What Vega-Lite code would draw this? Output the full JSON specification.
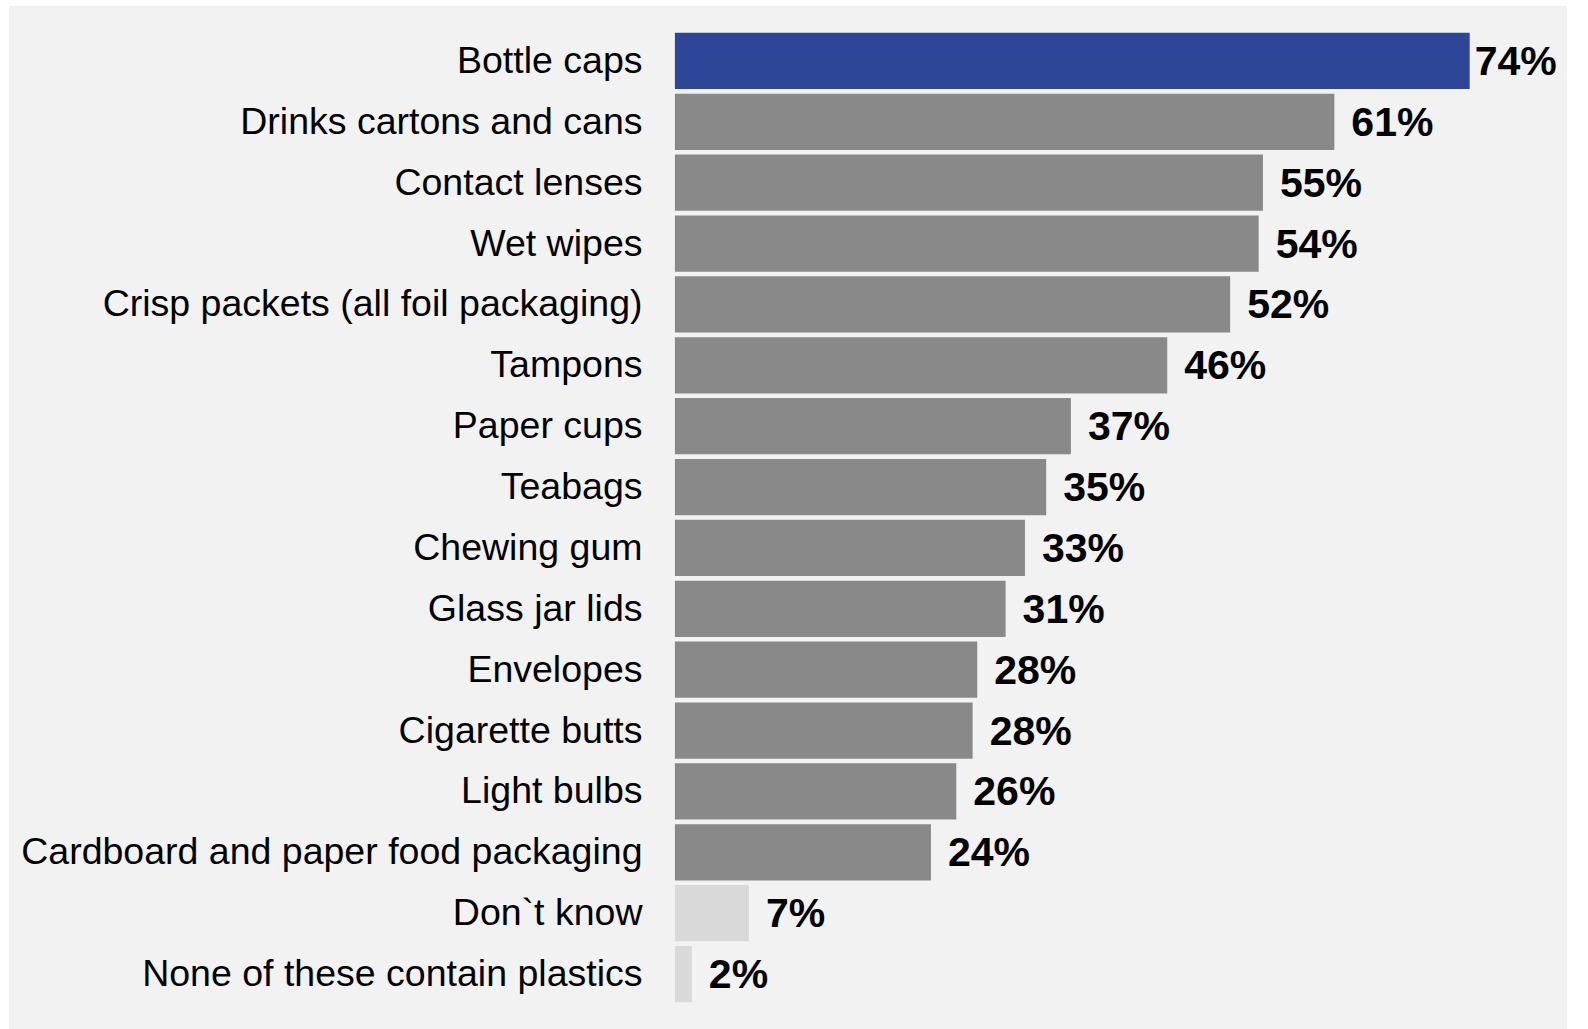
{
  "$schema": "https://vega.github.io/schema/vega-lite/v6.json",
  "width": 1558,
  "height": 1023,
  "autosize": {"type": "none"},
  "padding": {"left": 9, "top": 6, "right": 21, "bottom": 0},
  "background": "#ffffff",
  "config": {"view": {"fill": "#f2f2f2", "stroke": null}, "font": "Liberation Sans"},
  "data": {"values": [
    {"item": "Bottle caps", "share": 0.740, "group": "Highlight"},
    {"item": "Drinks cartons and cans", "share": 0.614, "group": "Item"},
    {"item": "Contact lenses", "share": 0.5475, "group": "Item"},
    {"item": "Wet wipes", "share": 0.5435, "group": "Item"},
    {"item": "Crisp packets (all foil packaging)", "share": 0.517, "group": "Item"},
    {"item": "Tampons", "share": 0.4584, "group": "Item"},
    {"item": "Paper cups", "share": 0.3687, "group": "Item"},
    {"item": "Teabags", "share": 0.3457, "group": "Item"},
    {"item": "Chewing gum", "share": 0.3259, "group": "Item"},
    {"item": "Glass jar lids", "share": 0.3079, "group": "Item"},
    {"item": "Envelopes", "share": 0.2815, "group": "Item"},
    {"item": "Cigarette butts", "share": 0.2772, "group": "Item"},
    {"item": "Light bulbs", "share": 0.262, "group": "Item"},
    {"item": "Cardboard and paper food packaging", "share": 0.2384, "group": "Item"},
    {"item": "Don`t know", "share": 0.0689, "group": "Other"},
    {"item": "None of these contain plastics", "share": 0.0158, "group": "Other"}
  ]},
  "encoding": {
    "y": {
      "field": "item", "type": "nominal", "sort": null,
      "scale": {"paddingInner": 0.075, "paddingOuter": 0.44},
      "axis": {
        "title": null, "domain": false, "ticks": false, "grid": false,
        "labelFontSize": 37.5, "labelColor": "#000000", "labelPadding": 33,
        "labelOffset": 1,
        "offset": -666, "labelFont": "Liberation Sans", "labelLimit": 0
      }
    },
    "x": {
      "field": "share", "type": "quantitative",
      "scale": {"domain": [-0.62, 0.8306], "nice": false, "zero": false},
      "axis": null
    }
  },
  "layer": [
    {
      "mark": {"type": "bar"},
      "encoding": {
        "color": {
          "field": "group", "type": "nominal",
          "scale": {"domain": ["Highlight", "Item", "Other"], "range": ["#2e4697", "#898989", "#d9d9d9"]},
          "legend": null
        }
      }
    },
    {
      "transform": [{"filter": "datum.item != 'Bottle caps'"}],
      "mark": {"type": "text", "align": "left", "baseline": "middle", "dx": 17, "dy": 2, "fontSize": 41, "fontWeight": "bold", "color": "#000000", "font": "Liberation Sans"},
      "encoding": {"text": {"field": "share", "type": "quantitative", "format": ".0%"}}
    },
    {
      "transform": [{"filter": "datum.item == 'Bottle caps'"}],
      "mark": {"type": "text", "align": "left", "baseline": "middle", "dx": 5, "dy": 2, "fontSize": 41, "fontWeight": "bold", "color": "#000000", "font": "Liberation Sans"},
      "encoding": {"text": {"field": "share", "type": "quantitative", "format": ".0%"}}
    }
  ]
}
